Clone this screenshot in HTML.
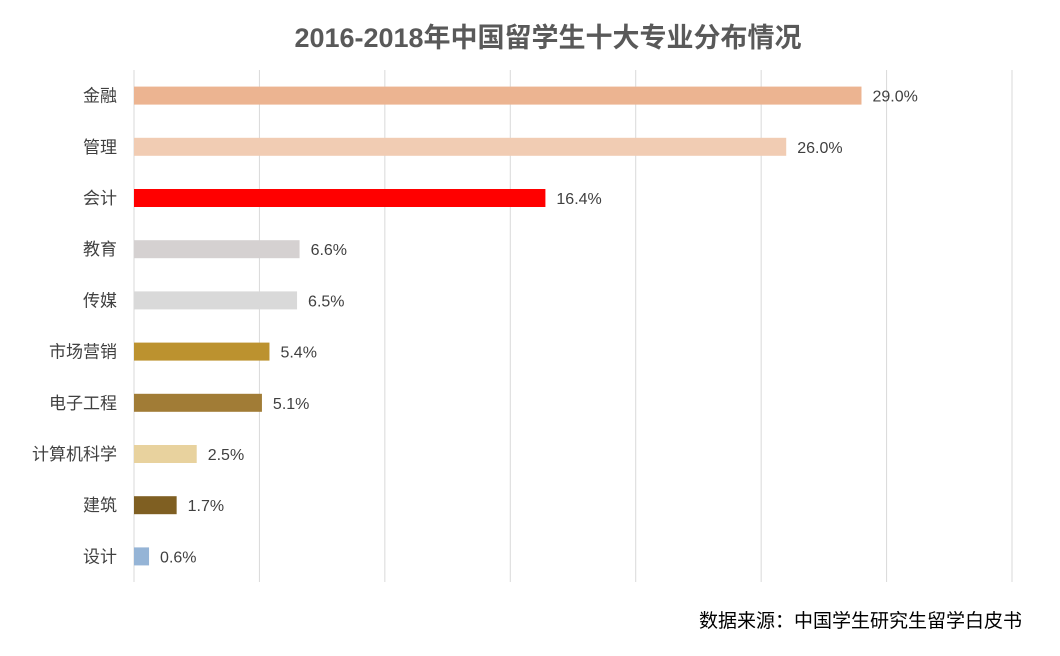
<!DOCTYPE html>
<html><head><meta charset="utf-8"><style>
body{margin:0;width:1060px;height:651px;background:#fff;overflow:hidden;font-family:"Liberation Sans","Noto Sans CJK SC",sans-serif}
</style></head><body>
<svg id="c" width="1060" height="651">
<text x="548" y="47" text-anchor="middle" font-size="27" font-weight="bold" fill="#595959" font-family="Liberation Sans, Noto Sans CJK SC, sans-serif">2016-2018年中国留学生十大专业分布情况</text>
<text x="1022" y="627" text-anchor="end" font-size="19" fill="#000" font-family="Liberation Sans, Noto Sans CJK SC, sans-serif">数据来源：中国学生研究生留学白皮书</text>
</svg>
<script>
const categories=["金融","管理","会计","教育","传媒","市场营销","电子工程","计算机科学","建筑","设计"];
const values=[29.0,26.0,16.4,6.6,6.5,5.4,5.1,2.5,1.7,0.6];
const colors=["#ECB491","#F1CCB3","#FF0000","#D5D1D1","#D9D9D9","#BC922F","#A17C36","#E8D29E","#7F5F22","#95B4D6"];
const ticks=[0,5,10,15,20,25,30,35];
const svg=document.getElementById('c');const NS="http://www.w3.org/2000/svg";
const X0=134,X1=1012,Y0=70,Y1=582,XMAX=35;
const x=v=>X0+v/XMAX*(X1-X0);
const band=(Y1-Y0)/categories.length;
const y=i=>Y0+band*(i+0.5);
function mk(t,a){const e=document.createElementNS(NS,t);for(const k in a)e.setAttribute(k,a[k]);svg.appendChild(e);return e;}
ticks.forEach(t=>{if(t===0)return;const l=mk('line',{x1:x(t),x2:x(t),y1:Y0,y2:Y1,stroke:'#D9D9D9','stroke-width':1});

});
const ax=mk('line',{x1:X0,x2:X0,y1:Y0,y2:Y1,stroke:'#D9D9D9','stroke-width':1});


categories.forEach((c,i)=>{
const cy=y(i);
const r=mk('rect',{x:X0,y:cy-9,width:x(values[i])-X0,height:18,fill:colors[i]});


const lb=mk('text',{x:117,y:cy+6,'text-anchor':'end','font-size':17,fill:'#404040'});lb.textContent=c;


const vl=mk('text',{x:x(values[i])+11,y:cy+6,'font-size':16,fill:'#404040'});vl.textContent=values[i].toFixed(1)+'%';


});
</script>
</body></html>
